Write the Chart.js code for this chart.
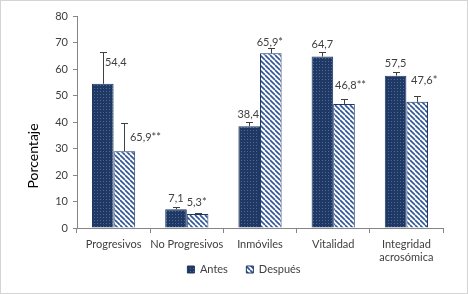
<!DOCTYPE html>
<html><head><meta charset="utf-8">
<script src="https://cdn.jsdelivr.net/npm/chart.js@4/dist/chart.umd.min.js"></script>
<style>
html,body{margin:0;padding:0;background:#fff;}
#wrap{position:relative;width:468px;height:294px;}
#frame{position:absolute;left:0;top:0;width:466px;height:292px;border:1px solid #d4d4d4;pointer-events:none}
canvas{display:block}
</style></head><body>
<div id="wrap"><canvas id="c" width="468" height="294"></canvas><div id="frame"></div></div>
<script>
const categories = ['Progresivos', 'No Progresivos', 'Inmóviles', 'Vitalidad', ['Integridad', 'acrosómica']];
const antes = [54.4, 7.1, 38.4, 64.7, 57.5];
const despues = [29.0, 5.3, 65.9, 46.8, 47.6];
const antesErr = [12.0, 0.7, 1.7, 1.6, 1.4];
const despuesErr = [10.5, 0.5, 1.9, 2.0, 2.1];
const antesLabels = ['54,4', '7,1', '38,4', '64,7', '57,5'];
const despuesLabels = ['65,9**', '5,3*', '65,9*', '46,8**', '47,6*'];
const yMin = 0, yMax = 80, yStep = 10;
const yTitle = 'Porcentaje';

function dotPattern() {
  const c = document.createElement('canvas'); c.width = 3; c.height = 3;
  const g = c.getContext('2d');
  g.fillStyle = '#1f3864'; g.fillRect(0, 0, 3, 3);
  g.fillStyle = '#4a6a9c'; g.fillRect(1, 1, 1, 1);
  return document.getElementById('c').getContext('2d').createPattern(c, 'repeat');
}
function stripePattern() {
  const n = 5;
  const c = document.createElement('canvas'); c.width = n; c.height = n;
  const g = c.getContext('2d');
  g.fillStyle = '#ffffff'; g.fillRect(0, 0, n, n);
  g.strokeStyle = '#2f5597'; g.lineWidth = 1.6;
  g.beginPath();
  for (let k = -1; k <= 1; k++) { g.moveTo(k * n, 0); g.lineTo(k * n + n, n); }
  g.stroke();
  return document.getElementById('c').getContext('2d').createPattern(c, 'repeat');
}

const labelOffsets = [
  [[13, -21], [0, -11], [-1, -12], [0, -12.5], [0, -12.6]],
  [[21, -14], [-1, -12], [-1, -11], [6.5, -19], [7, -21]]
];

const extras = {
  id: 'extras',
  afterDatasetsDraw(chart) {
    const ctx = chart.ctx, y = chart.scales.y;
    chart.data.datasets.forEach((ds, di) => {
      const meta = chart.getDatasetMeta(di);
      meta.data.forEach((bar, i) => {
        const topV = ds.data[i] + ds.errUp[i];
        const ty = Math.round(y.getPixelForValue(topV)) + 0.5;
        const x = Math.round(bar.x) + 0.5;
        ctx.save();
        ctx.strokeStyle = '#404040'; ctx.lineWidth = 1;
        ctx.beginPath();
        ctx.moveTo(x, bar.y); ctx.lineTo(x, ty);
        ctx.moveTo(x - 3.5, ty); ctx.lineTo(x + 3.5, ty);
        ctx.stroke();
        const off = labelOffsets[di][i];
        ctx.fillStyle = '#404040'; ctx.font = '11px Lato';
        ctx.textAlign = 'center'; ctx.textBaseline = 'middle';
        ctx.fillText(ds.valueLabels[i], bar.x + off[0], bar.y + off[1]);
        ctx.restore();
      });
    });
    ctx.save();
    ctx.translate(33, 156); ctx.rotate(-Math.PI / 2);
    ctx.fillStyle = '#000'; ctx.font = '14px Lato';
    ctx.textAlign = 'center'; ctx.textBaseline = 'middle';
    ctx.fillText(yTitle, 0, 0);
    ctx.restore();
  }
};

new Chart(document.getElementById('c'), {
  type: 'bar',
  data: {
    labels: categories,
    datasets: [
      { label: 'Antes', data: antes, errUp: antesErr, valueLabels: antesLabels,
        backgroundColor: dotPattern(), borderColor: '#1f3864', borderWidth: 1 },
      { label: 'Después', data: despues, errUp: despuesErr, valueLabels: despuesLabels,
        backgroundColor: stripePattern(), borderColor: '#1f3864', borderWidth: 1 }
    ]
  },
  options: {
    responsive: false, animation: false, devicePixelRatio: 1,
    layout: { padding: { left: 20, right: 0, top: 16, bottom: 9 } },
    datasets: { bar: { categoryPercentage: 0.59, barPercentage: 1 } },
    plugins: {
      legend: { position: 'bottom',
        labels: { boxWidth: 7, boxHeight: 7, padding: 2, color: '#404040', font: { family: 'Lato', size: 11 },
          generateLabels(chart) {
            const items = Chart.defaults.plugins.legend.labels.generateLabels(chart);
            items.forEach((it, i) => { if (i < items.length - 1) it.text = it.text + '\u2003\u2003'; });
            return items;
          } } },
      tooltip: { enabled: false }
    },
    scales: {
      x: {
        grid: { drawOnChartArea: false, drawTicks: true, tickLength: 5, color: '#868686', offset: true },
        border: { display: true, color: '#868686' },
        ticks: { color: '#404040', font: { family: 'Lato', size: 11 }, padding: 5, maxRotation: 0, autoSkip: false },
        afterFit(s) { s.height = 34; }
      },
      y: {
        min: yMin, max: yMax,
        grid: { drawOnChartArea: false, drawTicks: true, tickLength: 4, color: '#868686' },
        border: { display: true, color: '#868686' },
        ticks: { stepSize: yStep, color: '#404040', font: { family: 'Lato', size: 11 }, padding: 5 },
        afterFit(s) { s.width = 57; }
      },
      yr: {
        position: 'right', display: true, min: yMin, max: yMax,
        grid: { display: false }, border: { display: false },
        ticks: { display: false },
        afterFit(s) { s.width = 25; }
      }
    }
  },
  plugins: [extras]
});
</script>
</body></html>
